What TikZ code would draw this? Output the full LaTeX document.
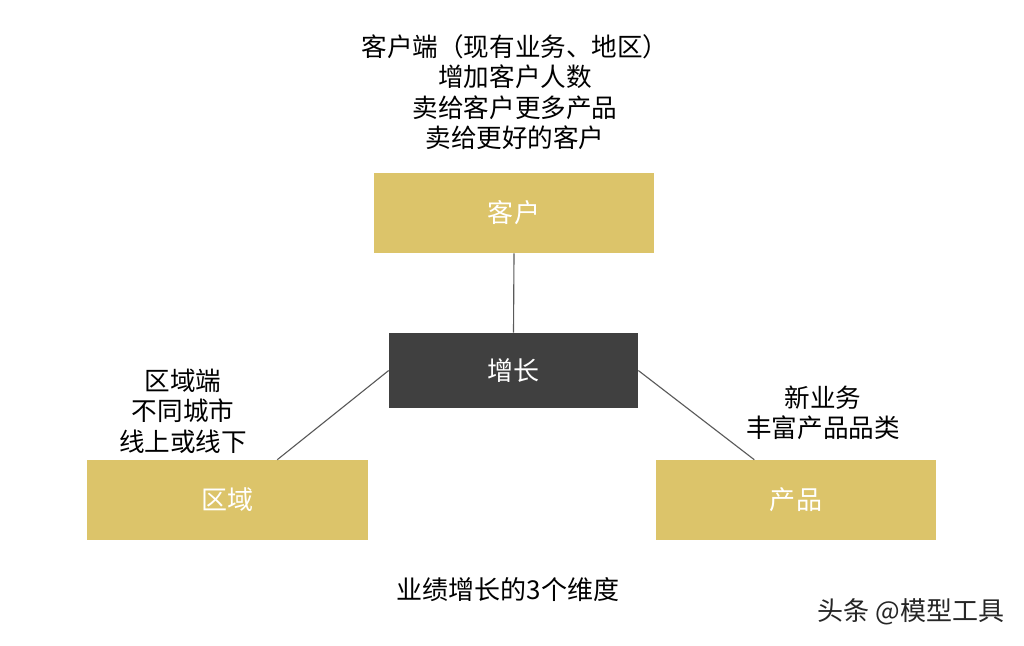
\documentclass[tikz,border=0pt]{standalone}
\usepackage{fontspec}
\setmainfont{Noto Sans CJK SC}
\usetikzlibrary{positioning}
\definecolor{GoldFill}{HTML}{DCC46A}
\definecolor{CoreGray}{HTML}{404040}
\definecolor{LinkGray}{HTML}{5A5A5A}
\tikzset{
  goldbox/.style={fill=GoldFill,minimum width=7cm,minimum height=2cm,inner sep=0pt,
              text=white,font=\fontsize{18.5}{20}\selectfont},
  corebox/.style={fill=CoreGray,minimum width=6.225cm,minimum height=1.875cm,inner sep=0pt,
              text=white,font=\fontsize{18.5}{20}\selectfont},
  link/.style={draw=LinkGray,line width=0.8pt},
  note/.style={align=center,font=\fontsize{18.2}{21.6}\selectfont,text=black,inner sep=0pt},
  mark note/.style={font=\fontsize{18.5}{20}\selectfont,text=black!85,inner sep=0pt}
}

\begin{document}
\begin{tikzpicture}[x=0.025cm,y=-0.025cm]
  \useasboundingbox[fill=white] (0,0) rectangle (1024,645);

  \node[goldbox] (customer) at (514,213) {客户};
  \node[corebox] (growth) at (513.5,370.5) {增长};
  \node[goldbox] (region) at (227.5,500) {区域};
  \node[goldbox] (product) at (796,500) {产品};

  \node[note] (customernote) at (515,92) {客户端（现有业务、地区）\\增加客户人数\\卖给客户更多产品\\卖给更好的客户};
  \node[note] (regionnote) at (183,411) {区域端\\不同城市\\线上或线下};
  \node[note] (productnote) at (823,413) {新业务\\丰富产品品类};

  \draw[link] (customer.south) -- (growth.north);
  \draw[link] (growth.west) -- (region.39);
  \draw[link] (growth.east) -- (product.136);

  \node[note,font=\fontsize{18.5}{20}\selectfont] (caption) at (508,590) {业绩增长的3个维度};
  \node[mark note] (mark) at (911,612) {头条 @模型工具};
\end{tikzpicture}
\end{document}
